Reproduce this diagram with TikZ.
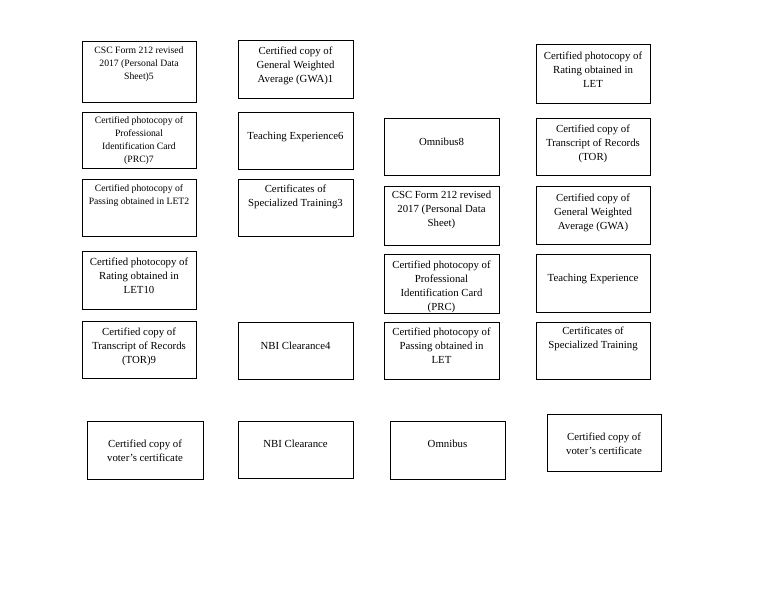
\documentclass[tikz,border=0pt]{standalone}
\usepackage{fontspec}
\setmainfont{Liberation Serif}
\tikzset{
  cbox/.style={draw=black, line width=1pt, fill=white, inner sep=0pt, rectangle},
  ctext/.style={align=center, inner sep=0pt, text=black},
  fbig/.style={font=\fontsize{10.8}{13.8}\selectfont},
  fsmall/.style={font=\fontsize{9.7}{13}\selectfont},
}
\newcommand\mkbox[8]{%
  \node[cbox, minimum width={#4pt-#2pt}, minimum height={#5pt-#3pt}] (#1) at ({(#2+#4)/2},{(#3+#5)/2}) {};
  \node[ctext, #7, anchor=north] (#1t) at ({(#2+#4)/2},{#6-3}) {#8};
}
\begin{document}
\begin{tikzpicture}[x=1pt,y=-1pt]
\useasboundingbox[fill=white] (0,0) rectangle (768,594);
% column 1
\mkbox{a1}{82}{42}{196}{102}{50}{fsmall}{CSC Form 212 revised\\2017 (Personal Data\\Sheet)5}
\mkbox{a2}{82}{112}{196}{168}{119}{fsmall}{Certified photocopy of\\Professional\\Identification Card\\(PRC)7}
\mkbox{a3}{82}{179}{196}{236}{187}{fsmall}{Certified photocopy of\\Passing obtained in LET2}
\mkbox{a4}{82}{251}{196}{309}{261}{fbig}{Certified photocopy of\\Rating obtained in\\LET10}
\mkbox{a5}{82}{321}{196}{378}{331}{fbig}{Certified copy of\\Transcript of Records\\(TOR)9}
% column 2
\mkbox{c1}{238}{41}{353}{98}{50}{fbig}{Certified copy of\\General Weighted\\Average (GWA)1}
\mkbox{c2}{238}{112}{353}{169}{135}{fbig}{Teaching Experience6}
\mkbox{c3}{238}{179}{353}{236}{188}{fbig}{Certificates of\\Specialized Training3}
\mkbox{c4}{238}{322}{353}{379}{345}{fbig}{NBI Clearance4}
% column 3
\mkbox{d1}{384}{118}{499}{175}{141}{fbig}{Omnibus8}
\mkbox{d2}{384}{186}{499}{245}{194}{fbig}{CSC Form 212 revised\\2017 (Personal Data\\Sheet)}
\mkbox{d3}{384}{254}{499}{313}{264}{fbig}{Certified photocopy of\\Professional\\Identification Card\\(PRC)}
\mkbox{d4}{384}{322}{499}{379}{331}{fbig}{Certified photocopy of\\Passing obtained in\\LET}
% column 4
\mkbox{e1}{536}{45}{650}{103}{55}{fbig}{Certified photocopy of\\Rating obtained in\\LET}
\mkbox{e2}{536}{118}{650}{175}{128}{fbig}{Certified copy of\\Transcript of Records\\(TOR)}
\mkbox{e3}{536}{186}{650}{244}{197}{fbig}{Certified copy of\\General Weighted\\Average (GWA)}
\mkbox{e4}{536}{254}{650}{312}{277}{fbig}{Teaching Experience}
\mkbox{e5}{536}{322}{650}{379}{330}{fbig}{Certificates of\\Specialized Training}
% bottom row
\mkbox{b1}{87}{421}{203}{479}{443}{fbig}{Certified copy of\\voter’s certificate}
\mkbox{b2}{238}{421}{353}{478}{443}{fbig}{NBI Clearance}
\mkbox{b3}{390}{421}{505}{479}{443}{fbig}{Omnibus}
\mkbox{b4}{547}{414}{661}{471}{436}{fbig}{Certified copy of\\voter’s certificate}
\end{tikzpicture}
\end{document}
